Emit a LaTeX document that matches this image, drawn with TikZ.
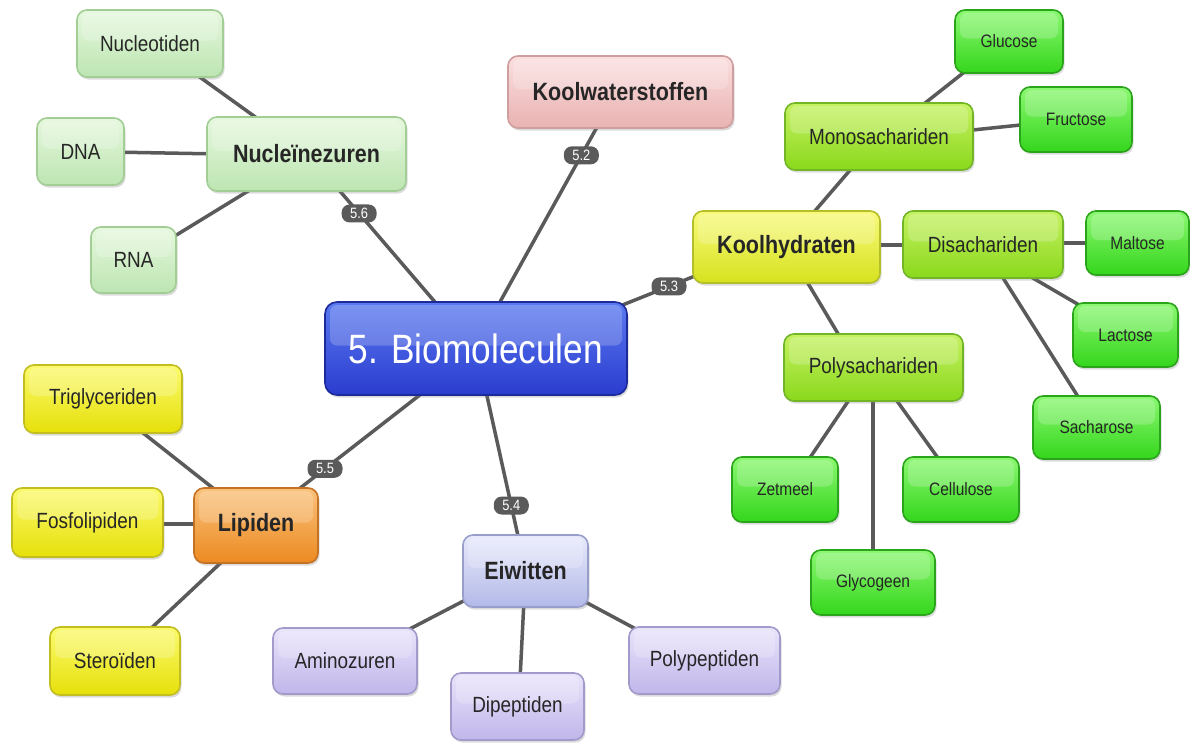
\documentclass[tikz,border=0pt]{standalone}
\usepackage{fontspec}
\setmainfont{Liberation Sans}[FakeStretch=0.86]
\usetikzlibrary{calc,shadows}
\pgfdeclarelayer{background}
\pgfsetlayers{background,main}

% colour families: top / bottom / border
\definecolor{hubT}{HTML}{5B7AF0}\definecolor{hubB}{HTML}{2A3CCF}\definecolor{hubD}{HTML}{1C2A9A}
\definecolor{nucT}{HTML}{E6F8DE}\definecolor{nucB}{HTML}{BDE5B2}\definecolor{nucD}{HTML}{A2CE96}
\definecolor{kwT}{HTML}{FBDFDF}\definecolor{kwB}{HTML}{E9B2B2}\definecolor{kwD}{HTML}{CF9E9E}
\definecolor{khT}{HTML}{F8FA7C}\definecolor{khB}{HTML}{D6E21E}\definecolor{khD}{HTML}{B4BE28}
\definecolor{sgT}{HTML}{C6F262}\definecolor{sgB}{HTML}{8AD81C}\definecolor{sgD}{HTML}{72B628}
\definecolor{lfT}{HTML}{8CF872}\definecolor{lfB}{HTML}{34D61C}\definecolor{lfD}{HTML}{2AA41A}
\definecolor{lpT}{HTML}{FAC27C}\definecolor{lpB}{HTML}{EC8A22}\definecolor{lpD}{HTML}{C47224}
\definecolor{ylT}{HTML}{FBFA6E}\definecolor{ylB}{HTML}{E6E00A}\definecolor{ylD}{HTML}{C2BE20}
\definecolor{ewT}{HTML}{E8EAFB}\definecolor{ewB}{HTML}{B3B9E8}\definecolor{ewD}{HTML}{989ECA}
\definecolor{amT}{HTML}{EAE4FB}\definecolor{amB}{HTML}{C0B6EA}\definecolor{amD}{HTML}{A29ACA}
\definecolor{linegray}{HTML}{5A5A5A}
\definecolor{ink}{HTML}{262626}

\tikzset{
  card/.style n args={3}{rounded corners=10pt, top color=#1, bottom color=#2,
    draw=#3, line width=1.6pt, text=ink, inner sep=0pt, align=center,
    drop shadow={shadow xshift=1.5pt, shadow yshift=-2.5pt, opacity=0.28},
    path picture={\fill[white, opacity=0.20, rounded corners=7pt]
      ([xshift=5pt, yshift=-3pt]path picture bounding box.north west) rectangle
      ([xshift=-5pt, yshift=3pt]path picture bounding box.east);}},
  hub/.style={card={hubT}{hubB}{hubD}, text=white, rounded corners=12pt,
    font=\fontsize{41}{46}\selectfont},
  major/.style={font=\bfseries\fontsize{25}{30}\selectfont},
  minor/.style={font=\fontsize{22}{26}\selectfont},
  leaf/.style={font=\fontsize{18}{22}\selectfont},
  nucbox/.style={card={nucT}{nucB}{nucD}},
  kwbox/.style={card={kwT}{kwB}{kwD}},
  khbox/.style={card={khT}{khB}{khD}},
  sgbox/.style={card={sgT}{sgB}{sgD}},
  lfbox/.style={card={lfT}{lfB}{lfD}},
  lpbox/.style={card={lpT}{lpB}{lpD}},
  ylbox/.style={card={ylT}{ylB}{ylD}},
  ewbox/.style={card={ewT}{ewB}{ewD}},
  ambox/.style={card={amT}{amB}{amD}},
  sz/.style 2 args={minimum width=#1pt, minimum height=#2pt},
  link/.style={draw=linegray, line width=3.5pt},
  lbl/.style={fill=linegray, text=white, rounded corners=8pt,
    font=\fontsize{15}{15}\selectfont, minimum width=35pt, minimum height=18pt,
    inner sep=1pt},
}

\begin{document}
\begin{tikzpicture}[x=1pt, y=-1pt]
\useasboundingbox (0,0) rectangle (1190,742);

% central topic
\node[hub, sz={302}{93}] (bio) at (476,348.5) {5. Biomoleculen};

% nucleic acids
\node[nucbox, major, sz={199}{74}] (nuc) at (306.5,154) {Nucleïnezuren};
\node[nucbox, minor, sz={146}{67}] (nucl) at (150,43.5) {Nucleotiden};
\node[nucbox, minor, sz={87}{67}]  (dna) at (80.5,151.5) {DNA};
\node[nucbox, minor, sz={85}{66}]  (rna) at (133.5,260) {RNA};

% hydrocarbons
\node[kwbox, major, sz={225}{72}] (kw) at (620.5,92) {Koolwaterstoffen};

% carbohydrates
\node[khbox, major, sz={187}{72}] (kh) at (786.5,247) {Koolhydraten};
\node[sgbox, minor, sz={188}{67}] (mono) at (879,136.5) {Monosachariden};
\node[sgbox, minor, sz={160}{67}] (di) at (983,244.5) {Disachariden};
\node[sgbox, minor, sz={179}{67}] (poly) at (873.5,367.5) {Polysachariden};
\node[lfbox, leaf, sz={108}{63}] (glu) at (1009,41.5) {Glucose};
\node[lfbox, leaf, sz={112}{65}] (fru) at (1076,119.5) {Fructose};
\node[lfbox, leaf, sz={103}{64}] (mal) at (1137.5,243) {Maltose};
\node[lfbox, leaf, sz={105}{64}] (lac) at (1125.5,335) {Lactose};
\node[lfbox, leaf, sz={127}{63}] (sac) at (1096.5,427.5) {Sacharose};
\node[lfbox, leaf, sz={106}{65}] (zet) at (785,489.5) {Zetmeel};
\node[lfbox, leaf, sz={116}{65}] (cel) at (961,489.5) {Cellulose};
\node[lfbox, leaf, sz={124}{65}] (gly) at (873,582.5) {Glycogeen};

% lipids
\node[lpbox, major, sz={124}{75}] (lip) at (256,525.5) {Lipiden};
\node[ylbox, minor, sz={158}{68}] (tri) at (103,399) {Triglyceriden};
\node[ylbox, minor, sz={151}{69}] (fos) at (87.5,522.5) {Fosfolipiden};
\node[ylbox, minor, sz={130}{68}] (ste) at (115,661) {Steroïden};

% proteins
\node[ewbox, major, sz={125}{72}] (eiw) at (525.5,571) {Eiwitten};
\node[ambox, minor, sz={144}{66}] (ami) at (345,661) {Aminozuren};
\node[ambox, minor, sz={133}{67}] (dip) at (517.5,706.5) {Dipeptiden};
\node[ambox, minor, sz={151}{67}] (pol) at (704.5,660.5) {Polypeptiden};

\begin{pgfonlayer}{background}
  \fill[white] (0,0) rectangle (1190,742);
  % branches from the central topic
  \draw[link] ($(bio)+(19.5,-38.5)$) -- node[lbl, pos=.81] {5.2} ($(kw)+(-19,27)$);
  \draw[link] ($(bio)+(-34.2,-38.5)$) -- node[lbl, pos=.76] {5.6} ($(nuc)+(26.5,29)$);
  \draw[link] ($(bio)+(139,-40.5)$) -- node[lbl, pos=.6] {5.3} ($(kh)+(-81.5,25)$);
  \draw[link] ($(bio)+(-46,38.5)$) -- node[lbl, pos=.75] {5.5} ($(lip)+(34,-29.5)$);
  \draw[link] ($(bio)+(9,38.5)$) -- node[lbl, pos=.75] {5.4} ($(eiw)+(-5.5,-26)$);
  % nucleic acids
  \draw[link] ($(nucl)+(40,26.5)$) -- ($(nuc)+(-41.5,-30)$);
  \draw[link] ($(dna)+(29.5,0.5)$) -- ($(nuc)+(-86.5,0)$);
  \draw[link] ($(rna)+(31.5,-18)$) -- ($(nuc)+(-48.5,31)$);
  % carbohydrates
  \draw[link] ($(glu)+(-37,24.5)$) -- ($(mono)+(36,-25.5)$);
  \draw[link] ($(fru)+(-46,4.5)$) -- ($(mono)+(84,-5.5)$);
  \draw[link] ($(mono)+(-22,25.5)$) -- ($(kh)+(21.5,-28)$);
  \draw[link] ($(kh)+(83.5,-2)$) -- ($(di)+(-68,0.5)$);
  \draw[link] ($(di)+(67,-1.5)$) -- ($(mal)+(-37.5,0)$);
  \draw[link] ($(di)+(43,29.5)$) -- ($(lac)+(-39.5,-26)$);
  \draw[link] ($(di)+(15,25.5)$) -- ($(sac)+(-14.5,-24.5)$);
  \draw[link] ($(kh)+(16.5,28)$) -- ($(poly)+(-30.5,-25.5)$);
  \draw[link] ($(poly)+(-20.5,26.5)$) -- ($(zet)+(20,-24.5)$);
  \draw[link] ($(poly)+(-0.5,27.5)$) -- ($(gly)+(0,-24.5)$);
  \draw[link] ($(poly)+(18.5,26.5)$) -- ($(cel)+(-18,-24.5)$);
  % lipids
  \draw[link] ($(tri)+(30,26)$) -- ($(lip)+(-33,-29.5)$);
  \draw[link] ($(fos)+(67.5,1.5)$) -- ($(lip)+(-51,-1.5)$);
  \draw[link] ($(lip)+(-28,30.5)$) -- ($(ste)+(30,-27)$);
  % proteins
  \draw[link] ($(eiw)+(-50.5,24)$) -- ($(ami)+(57,-28)$);
  \draw[link] ($(eiw)+(-1.5,29)$) -- ($(dip)+(2.5,-26.5)$);
  \draw[link] ($(eiw)+(52.5,27)$) -- ($(pol)+(-57.5,-25.5)$);
\end{pgfonlayer}
\end{tikzpicture}
\end{document}
